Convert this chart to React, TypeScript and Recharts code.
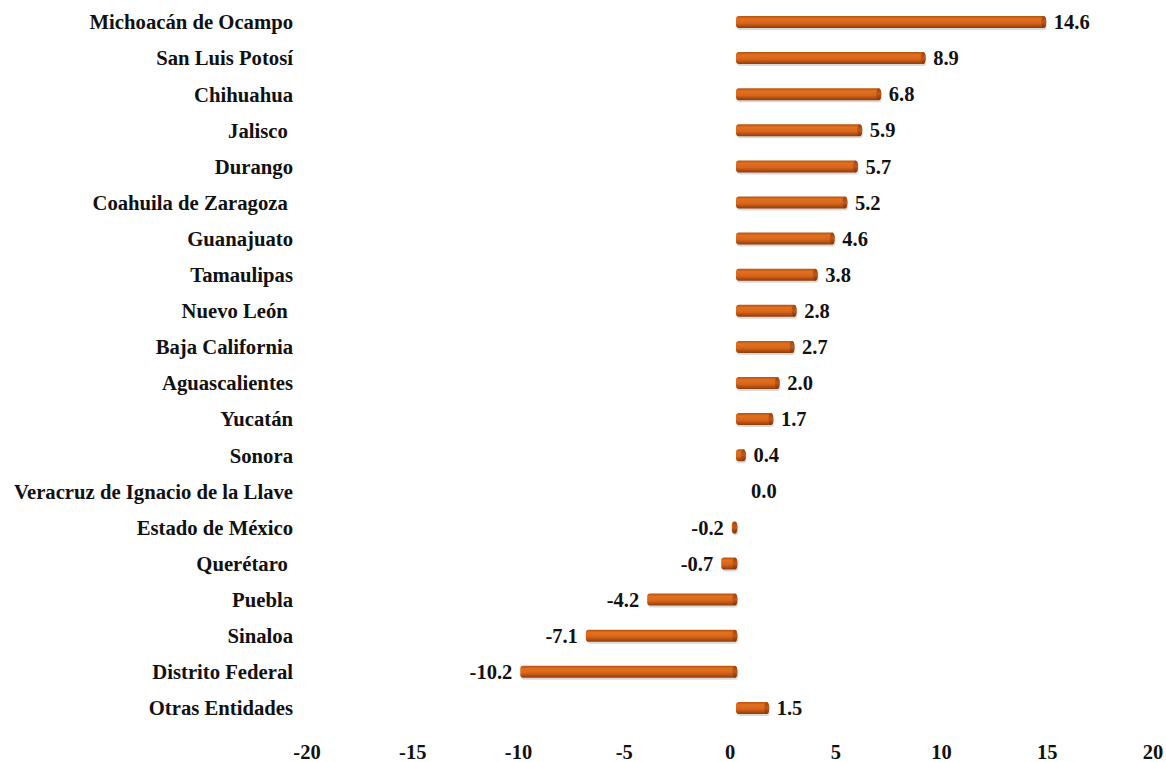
import { BarChart, Bar, XAxis, YAxis, LabelList } from "recharts";

const ESTADOS = [
  "Michoacán de Ocampo",
  "San Luis Potosí",
  "Chihuahua",
  "Jalisco\u00a0",
  "Durango",
  "Coahuila de Zaragoza\u00a0",
  "Guanajuato",
  "Tamaulipas",
  "Nuevo León\u00a0",
  "Baja California",
  "Aguascalientes",
  "Yucatán",
  "Sonora",
  "Veracruz de Ignacio de la Llave",
  "Estado de México",
  "Querétaro\u00a0",
  "Puebla",
  "Sinaloa",
  "Distrito Federal",
  "Otras Entidades",
];
const VARIACION = [14.6, 8.9, 6.8, 5.9, 5.7, 5.2, 4.6, 3.8, 2.8, 2.7, 2.0, 1.7, 0.4, 0.0, -0.2, -0.7, -4.2, -7.1, -10.2, 1.5];
const X_TICKS = [-20, -15, -10, -5, 0, 5, 10, 15, 20];

const data = ESTADOS.map((estado, i) => ({ estado, valor: VARIACION[i] }));

const FONT = "'Liberation Serif', 'Times New Roman', serif";
const DEPTH = 6; // desplazamiento del efecto 3D

// barra tipo cilindro
const CylBar = (props: any) => {
  const { x, y, width, height, value } = props;
  if (value === 0 || !width) return null;
  const left = Math.min(x, x + width) + DEPTH;
  const w = Math.abs(width) + 1;
  const h = 12;
  const top = y + (height - h) / 2;
  return (
    <g>
      <rect x={left + 1} y={top + 2} width={w} height={h} rx={3} fill="#000" opacity={0.15} />
      <rect x={left} y={top} width={w} height={h} rx={3} fill="url(#cylGrad)" />
      <ellipse cx={left + w - 2} cy={top + h / 2} rx={2.5} ry={h / 2} fill="url(#capGrad)" />
    </g>
  );
};

const ValueLabel = (props: any) => {
  const { x, y, width, height, value } = props;
  const l = Math.min(x, x + width) + DEPTH;
  const r = Math.max(x, x + width) + DEPTH;
  const neg = value < 0;
  return (
    <text
      x={neg ? l - 8 : value === 0 ? r + 15 : r + 9}
      y={y + height / 2}
      dy="0.35em"
      textAnchor={neg ? "end" : "start"}
      fontFamily={FONT}
      fontWeight="bold"
      fontSize={20.5}
      fill="#111"
    >
      {value.toFixed(1)}
    </text>
  );
};

export default function App() {
  return (
    <div style={{ position: "absolute", left: 0, top: 0, background: "#fff" }}>
      <BarChart
        width={1166}
        height={762}
        data={data}
        layout="vertical"
        margin={{ top: 4, right: 13, bottom: 0, left: 0 }}
        barCategoryGap={10}
      >
        <defs>
          <linearGradient id="cylGrad" x1="0" y1="0" x2="0" y2="1">
            <stop offset="0%" stopColor="#b8520f" />
            <stop offset="25%" stopColor="#e0711f" />
            <stop offset="60%" stopColor="#d8641a" />
            <stop offset="100%" stopColor="#8e3c0b" />
          </linearGradient>
          <linearGradient id="capGrad" x1="0" y1="0" x2="0" y2="1">
            <stop offset="0%" stopColor="#9c450e" />
            <stop offset="50%" stopColor="#c0581a" />
            <stop offset="100%" stopColor="#7a3208" />
          </linearGradient>
        </defs>
        <XAxis
          type="number"
          domain={[-20, 20]}
          ticks={X_TICKS}
          axisLine={false}
          tickLine={false}
          tickSize={6}
          tickMargin={12}
          height={36}
          interval={0}
          tick={{ fontFamily: FONT, fontWeight: "bold", fontSize: 20.5, fill: "#111" }}
        />
        <YAxis
          type="category"
          dataKey="estado"
          width={307}
          axisLine={false}
          tickLine={false}
          tickSize={6}
          tickMargin={8}
          interval={0}
          tick={{ fontFamily: FONT, fontWeight: "bold", fontSize: 20.7, fill: "#111" }}
        />
        <Bar dataKey="valor" shape={<CylBar />} isAnimationActive={false}>
          <LabelList dataKey="valor" content={<ValueLabel />} />
        </Bar>
      </BarChart>
    </div>
  );
}
